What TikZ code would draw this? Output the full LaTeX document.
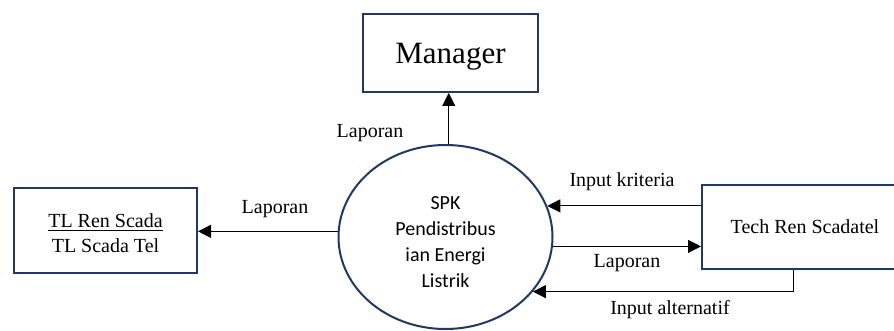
\documentclass[tikz,border=0pt]{standalone}
\usepackage{fontspec}
\setmainfont{Liberation Serif}
\newfontfamily\procfont{Carlito}
\usetikzlibrary{arrows.meta,shapes.geometric,calc}
\definecolor{boxblue}{HTML}{1F3864}
\begin{document}
\begin{tikzpicture}[x=1pt,y=-1pt,
  entity/.style={draw=boxblue,line width=2pt,rectangle,inner sep=0pt},
  process/.style={draw=boxblue,line width=2pt,ellipse,inner sep=0pt},
  flow/.style={line width=1pt,-{Triangle[length=13pt,width=13pt]}},
  lbl/.style={inner sep=0pt,font=\fontsize{20}{24}\selectfont}]
\useasboundingbox (0,0) rectangle (894,331);

% external entities
\node[entity,minimum width=175pt,minimum height=78pt,text depth=0pt,
      font=\fontsize{31}{36}\selectfont] (mgr) at (450.5,53) {Manager};
\node[entity,minimum width=183pt,minimum height=85pt] (tl) at (105.5,230.5) {};
\node[lbl,anchor=base] (tl1) at (105.5,227) {TL Ren Scada};
\node[lbl,anchor=base] (tl2) at (105.5,252) {TL Scada Tel};
\draw[line width=1.5pt] (tl1.west |- 0,230.5) -- (tl1.east |- 0,230.5);
\node[entity,minimum width=206pt,minimum height=84pt,text depth=0pt,
      font=\fontsize{20}{24}\selectfont] (tech) at (805,227) {Tech Ren Scadatel};

% process
\node[process,minimum width=214pt,minimum height=184pt] (proc) at (445.5,237) {};
\node[inner sep=0pt,align=center,font=\procfont\fontsize{20}{26}\selectfont]
  (proctext) at (445.5,242) {SPK\\Pendistribus\\ian Energi\\Listrik};

% data flows
\draw[flow] (proc.88) -- (proc.88 |- mgr.south);
\node[lbl] (l1) at (370,133) {Laporan};

\draw[flow] (proc.177) -- (proc.177 -| tl.east);
\node[lbl] (l2) at (275,209) {Laporan};

\draw[flow] (tech.west |- proc.17) -- (proc.17);
\node[lbl] (l3) at (622,182) {Input kriteria};

\draw[flow] (proc.-5) -- (proc.-5 -| tech.west);
\node[lbl] (l4) at (627,263) {Laporan};

\coordinate (altfoot) at ($(tech.south west)!0.446!(tech.south east)$);
\draw[flow] (altfoot) |- (proc.-32);
\node[lbl] (l5) at (670,310) {Input alternatif};
\end{tikzpicture}
\end{document}
